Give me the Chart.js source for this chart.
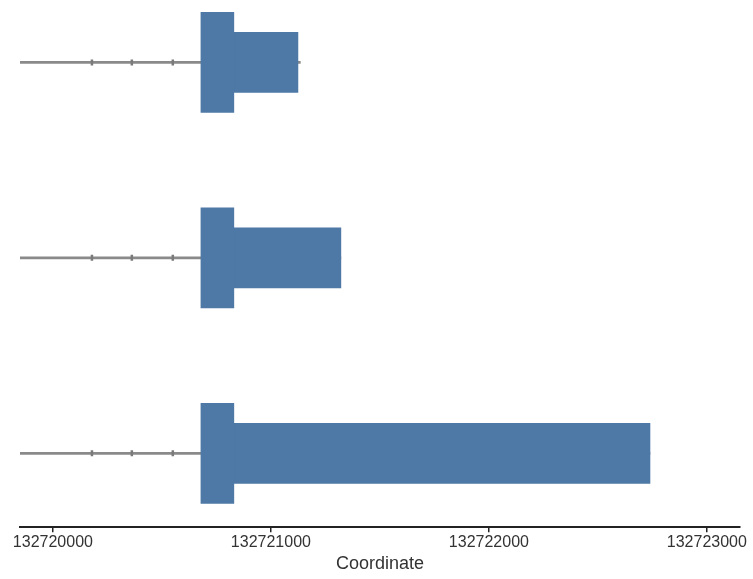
<!DOCTYPE html>
<html>
<head>
<meta charset="utf-8">
<script src="https://cdn.jsdelivr.net/npm/chart.js@4/dist/chart.umd.min.js"></script>
<style>
  html, body { margin: 0; padding: 0; background: #fff; }
  #wrap { width: 753px; height: 579px; }
</style>
</head>
<body>
<div id="wrap"><canvas id="c" width="753" height="579"></canvas></div>
<script>
// Transcript models: one row per transcript (row 1 at top)
const transcripts = ['T1', 'T2', 'T3'];
const rows = [1, 2, 3];
// Intron / backbone line span per transcript
const lineStart = [132719849, 132719849, 132719849];
const lineEnd   = [132721135, 132721321, 132722739];
// Tall exon block (coding part)
const cdsStart = [132720679, 132720679, 132720679];
const cdsEnd   = [132720830, 132720830, 132720830];
// Shorter block (untranslated part)
const utrStart = [132720830, 132720830, 132720830];
const utrEnd   = [132721124, 132721321, 132722739];
// Strand marks along the backbone
const strandMarks = [132720179, 132720362, 132720550];
// Axis tick values
const tickValues = [132720000, 132721000, 132722000, 132723000];

const boxColor = '#4e78a5';
const lineColor = '#8a8a8a';
const textColor = '#333333';

const floating = (s, e) => rows.map((r, i) => ({ x: [s[i], e[i]], y: r }));

const markPoints = [];
rows.forEach(r => strandMarks.forEach(m => markPoints.push({ x: m, y: r })));

new Chart(document.getElementById('c'), {
  type: 'bar',
  data: {
    datasets: [
      {
        label: 'CDS',
        data: floating(cdsStart, cdsEnd),
        backgroundColor: boxColor,
        barThickness: 100,
        grouped: false,
        order: 0
      },
      {
        label: 'UTR',
        data: floating(utrStart, utrEnd),
        backgroundColor: boxColor,
        barThickness: 60,
        grouped: false,
        order: 1
      },
      {
        type: 'line',
        label: 'strand',
        data: markPoints,
        showLine: false,
        pointStyle: 'line',
        rotation: 90,
        pointRadius: 3,
        pointBorderWidth: 2.5,
        pointBorderColor: '#7a7a7a',
        pointBackgroundColor: '#7a7a7a',
        order: 2
      },
      {
        label: 'backbone',
        data: floating(lineStart, lineEnd),
        backgroundColor: lineColor,
        barThickness: 2,
        grouped: false,
        order: 3
      }
    ]
  },
  options: {
    indexAxis: 'y',
    responsive: false,
    animation: false,
    parsing: { xAxisKey: 'x', yAxisKey: 'y' },
    layout: { padding: { left: 20, right: 13, top: 3, bottom: 2 } },
    plugins: { legend: { display: false }, tooltip: { enabled: false } },
    scales: {
      y: {
        type: 'linear',
        reverse: true,
        offset: false,
        min: 0.714,
        max: 3.378,
        display: false
      },
      x: {
        type: 'linear',
        min: 132719849,
        max: 132723152,
        afterBuildTicks: (scale) => { scale.ticks = tickValues.map(v => ({ value: v })); },
        border: { display: true, color: '#222222', width: 2 },
        grid: { drawOnChartArea: false, drawTicks: true, tickLength: 5, color: '#222222', lineWidth: 1.5 },
        ticks: {
          color: textColor,
          padding: 1,
          maxRotation: 0,
          autoSkip: false,
          font: { family: 'Liberation Sans, Arial, sans-serif', size: 16 },
          callback: (v) => String(v)
        },
        title: {
          display: true,
          text: 'Coordinate',
          color: textColor,
          padding: { top: 0, bottom: 2 },
          font: { family: 'Liberation Sans, Arial, sans-serif', size: 18 }
        }
      }
    }
  }
});
</script>
</body>
</html>
